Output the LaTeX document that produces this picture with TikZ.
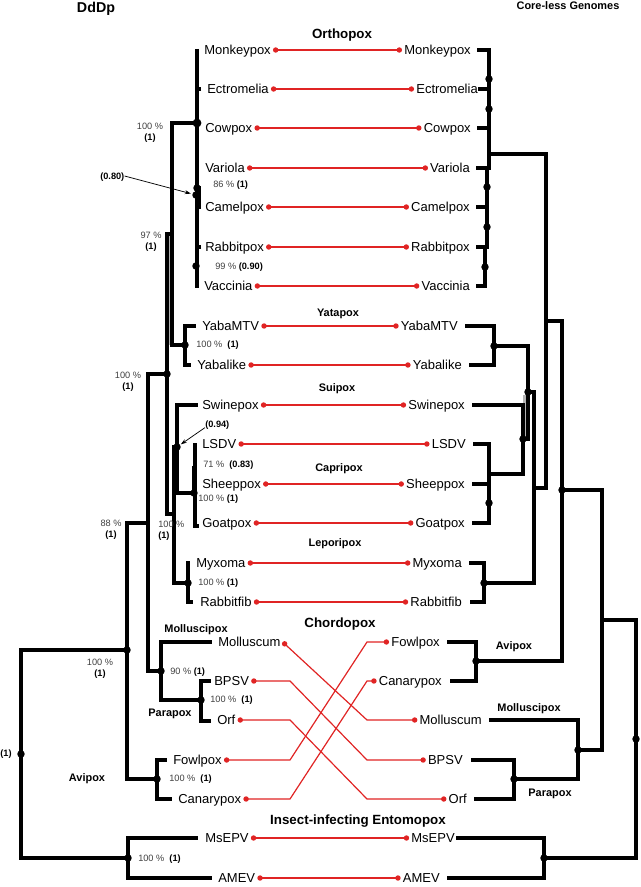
\documentclass[tikz,border=0pt]{standalone}
\usepackage{fontspec}
\setmainfont{Liberation Sans}
\usetikzlibrary{arrows.meta}

\definecolor{linkred}{RGB}{224,36,36}
\definecolor{suppgray}{RGB}{64,64,64}
\newcommand{\suppval}[1]{{\color{black}\bfseries #1}}

\begin{document}
\begin{tikzpicture}[x=0.75pt,y=-0.75pt,
    taxon/.style={font=\fontsize{9.75}{11}\selectfont, inner xsep=1.5pt, inner ysep=0pt, text height=7pt, text depth=0pt},
    clade/.style={font=\fontsize{8.2}{10}\selectfont\bfseries, inner sep=0pt, text height=5.9pt, text depth=0pt},
    bigclade/.style={font=\fontsize{10}{12}\selectfont\bfseries, inner sep=0pt, text height=7.2pt, text depth=0pt},
    supp/.style={font=\fontsize{6.9}{8.25}\selectfont, text=suppgray, inner sep=0pt, text height=5pt, text depth=0pt},
    suppstack/.style={font=\fontsize{6.9}{8.25}\selectfont, text=suppgray, inner sep=0pt, align=center},
    knot/.style={circle, fill=black, inner sep=0pt, minimum size=5.6pt},
    link/.style={draw=linkred, line width=0.9pt, {Circle[length=4pt]}-{Circle[length=4pt]}},
    tag/.style={-{Stealth[length=4.5pt,width=3pt]}, line width=0.55pt}]
    \useasboundingbox (0,0) rectangle (640,887);

    %% Titles and clade names
    \node[font=\fontsize{10.7}{12}\selectfont\bfseries] (ddp) at (96,9) {DdDp};
    \node[clade] (core) at (568,6) {Core-less Genomes};
    \node[bigclade] (cOrtho) at (342,34) {Orthopox};
    \node[clade] (cYata) at (338,313) {Yatapox};
    \node[clade] (cSui) at (337,388) {Suipox};
    \node[clade] (cCapri) at (339,468) {Capripox};
    \node[clade] (cLepori) at (335,543) {Leporipox};
    \node[bigclade] (cChordo) at (340,623) {Chordopox};
    \node[bigclade] (cEnto) at (358,820) {Insect-infecting Entomopox};
    \node[clade] (cMollL) at (196,629) {Molluscipox};
    \node[clade] (cParaL) at (170,713) {Parapox};
    \node[clade] (cAviL) at (87,778) {Avipox};
    \node[clade] (cAviR) at (514,646) {Avipox};
    \node[clade] (cMollR) at (529,708) {Molluscipox};
    \node[clade] (cParaR) at (550,793) {Parapox};

    %% Left taxa (DdDp)
    \node[taxon,anchor=west] (lMonkey) at (202,50) {Monkeypox};
    \node[taxon,anchor=west] (lEctro) at (205,89) {Ectromelia};
    \node[taxon,anchor=west] (lCow) at (203,128) {Cowpox};
    \node[taxon,anchor=west] (lVar) at (203,168) {Variola};
    \node[taxon,anchor=west] (lCamel) at (203,207) {Camelpox};
    \node[taxon,anchor=west] (lRabbit) at (203,247) {Rabbitpox};
    \node[taxon,anchor=west] (lVacc) at (202,286) {Vaccinia};
    \node[taxon,anchor=west] (lYaba) at (200,326) {YabaMTV};
    \node[taxon,anchor=west] (lYalik) at (195,365) {Yabalike};
    \node[taxon,anchor=west] (lSwine) at (200,405) {Swinepox};
    \node[taxon,anchor=west] (lLSDV) at (200,444) {LSDV};
    \node[taxon,anchor=west] (lSheep) at (200,484) {Sheeppox};
    \node[taxon,anchor=west] (lGoat) at (200,523) {Goatpox};
    \node[taxon,anchor=west] (lMyxo) at (194,563) {Myxoma};
    \node[taxon,anchor=west] (lRfib) at (198,602) {Rabbitfib};
    \node[taxon,anchor=west] (lMollus) at (216,642) {Molluscum};
    \node[taxon,anchor=west] (lBPSV) at (212,681) {BPSV};
    \node[taxon,anchor=west] (lOrf) at (215,720) {Orf};
    \node[taxon,anchor=west] (lFowl) at (171,760) {Fowlpox};
    \node[taxon,anchor=west] (lCanary) at (176,799) {Canarypox};
    \node[taxon,anchor=west] (lMsEPV) at (203,838) {MsEPV};
    \node[taxon,anchor=west] (lAMEV) at (216,878) {AMEV};

    %% Right taxa (core-less genomes)
    \node[taxon,anchor=east] (rMonkey) at (473,50) {Monkeypox};
    \node[taxon,anchor=east] (rEctro) at (480,89) {Ectromelia};
    \node[taxon,anchor=east] (rCow) at (473,128) {Cowpox};
    \node[taxon,anchor=east] (rVar) at (472,168) {Variola};
    \node[taxon,anchor=east] (rCamel) at (472,207) {Camelpox};
    \node[taxon,anchor=east] (rRabbit) at (472,247) {Rabbitpox};
    \node[taxon,anchor=east] (rVacc) at (472,286) {Vaccinia};
    \node[taxon,anchor=east] (rYaba) at (460,326) {YabaMTV};
    \node[taxon,anchor=east] (rYalik) at (464,365) {Yabalike};
    \node[taxon,anchor=east] (rSwine) at (467,405) {Swinepox};
    \node[taxon,anchor=east] (rLSDV) at (468,444) {LSDV};
    \node[taxon,anchor=east] (rSheep) at (467,484) {Sheeppox};
    \node[taxon,anchor=east] (rGoat) at (467,523) {Goatpox};
    \node[taxon,anchor=east] (rMyxo) at (464,563) {Myxoma};
    \node[taxon,anchor=east] (rRfib) at (464,602) {Rabbitfib};
    \node[taxon,anchor=east] (rFowl) at (442,642) {Fowlpox};
    \node[taxon,anchor=east] (rCanary) at (444,681) {Canarypox};
    \node[taxon,anchor=east] (rMollus) at (484,720) {Molluscum};
    \node[taxon,anchor=east] (rBPSV) at (465,760) {BPSV};
    \node[taxon,anchor=east] (rOrf) at (469,799) {Orf};
    \node[taxon,anchor=east] (rMsEPV) at (457,838) {MsEPV};
    \node[taxon,anchor=east] (rAMEV) at (442,878) {AMEV};

    %% Tree nodes, left
    \coordinate (lRoot) at (21,754);
    \coordinate (l100c) at (127,650);
    \coordinate (l88) at (148,523);
    \coordinate (l100a) at (167,374);
    \coordinate (l97) at (172,234);
    \coordinate (lOrtho) at (197,123);
    \coordinate (lVar86) at (197,188);
    \coordinate (l080) at (196,195);
    \coordinate (l099) at (196,266);
    \coordinate (lYata) at (185,345);
    \coordinate (l100b) at (174,514);
    \coordinate (l094) at (177,447);
    \coordinate (lCapri) at (194,493);
    \coordinate (c71) at (194,466);
    \coordinate (lLepori) at (188,583);
    \coordinate (lMP) at (161,671);
    \coordinate (lPara) at (201,700);
    \coordinate (lAvi) at (157,779);
    \coordinate (lEnto) at (128,858);
    \coordinate (oTop) at (200,186);
    \coordinate (oBot) at (200,209);
    %% tips, left
    \coordinate (tMonkey) at (197,49);
    \coordinate (tEctro) at (201,89);
    \coordinate (tRabbit) at (201,247);
    \coordinate (tVacc) at (197,288);
    \coordinate (tYaba) at (196,326);
    \coordinate (tYalik) at (191,365);
    \coordinate (tSwine) at (198,405);
    \coordinate (tLSDV) at (195,443);
    \coordinate (tGoat) at (199,526);
    \coordinate (tMyxo) at (190,563);
    \coordinate (tRfib) at (193,602);
    \coordinate (tMollus) at (212,642);
    \coordinate (tBPSV) at (211,681);
    \coordinate (tOrf) at (211,721);
    \coordinate (tFowl) at (167,760);
    \coordinate (tCanary) at (172,799);
    \coordinate (tMsEPV) at (198,838);
    \coordinate (tAMEV) at (212,878);

    %% Tree nodes, right
    \coordinate (rRoot) at (636,739);
    \coordinate (r620) at (602,620);
    \coordinate (r490) at (562,490);
    \coordinate (r321) at (546,321);
    \coordinate (rOrtho) at (489,154);
    \coordinate (r79) at (489,79);
    \coordinate (r109) at (489,109);
    \coordinate (r86) at (487,187);
    \coordinate (r80) at (487,227);
    \coordinate (r99) at (485,267);
    \coordinate (r488) at (534,488);
    \coordinate (r392) at (528,392);
    \coordinate (rYata) at (494,346);
    \coordinate (rSC) at (523,439);
    \coordinate (rCapri) at (489,474);
    \coordinate (r503) at (489,503);
    \coordinate (rLepori) at (484,583);
    \coordinate (rAvi) at (476,661);
    \coordinate (rMP) at (578,750);
    \coordinate (rPara) at (514,779);
    \coordinate (rEnto) at (544,858);
    %% tips, right
    \coordinate (uMonkey) at (477,50);
    \coordinate (uEctro) at (478,89);
    \coordinate (uCow) at (477,128);
    \coordinate (uVar) at (476,168);
    \coordinate (uCamel) at (476,207);
    \coordinate (uRabbit) at (476,247);
    \coordinate (uVacc) at (476,286);
    \coordinate (uYaba) at (465,326);
    \coordinate (uYalik) at (469,365);
    \coordinate (uSwine) at (472,405);
    \coordinate (uLSDV) at (473,444);
    \coordinate (uSheep) at (472,484);
    \coordinate (uGoat) at (472,523);
    \coordinate (uMyxo) at (469,563);
    \coordinate (uRfib) at (470,602);
    \coordinate (uFowl) at (447,642);
    \coordinate (uCanary) at (450,681);
    \coordinate (uMollus) at (489,720);
    \coordinate (uBPSV) at (471,760);
    \coordinate (uOrf) at (474,799);
    \coordinate (uMsEPV) at (456,838);
    \coordinate (uAMEV) at (447,878);

    %% Overlapping branches
    \fill[gray!60] (167,234) rectangle (172,345);
    \fill[gray!60] (523,395) rectangle (528,439);

    %% Draw the branches
    \begin{scope}[every path/.style={line width=2.3pt}]
      \draw (lRoot) |- (l100c);
      \draw (lRoot) |- (lEnto);
      \draw (l100c) |- (l88);
      \draw (l100c) |- (lAvi);
      \draw (l88) |- (l100a);
      \draw (l88) |- (lMP);
      \draw (l100a) |- (l97);
      \draw (l100a) |- (l100b);
      \draw (l97) |- (lOrtho);
      \draw (l97) |- (lYata);
      \draw (tMonkey) -- (tVacc);
      \draw (tEctro) -- (tEctro -| tMonkey);
      \draw (tRabbit) -- (tRabbit -| tMonkey);
      \draw[line width=1.5pt] (oTop) -- (oBot);
      \draw (lYata) |- (tYaba);
      \draw (lYata) |- (tYalik);
      \draw (l100b) |- (l094);
      \draw (l100b) |- (lLepori);
      \draw (l094) |- (tSwine);
      \draw (l094) |- (lCapri);
      \draw (c71) -- (lCapri);
      \draw (tLSDV) |- (tGoat);
      \draw (lLepori) |- (tMyxo);
      \draw (lLepori) |- (tRfib);
      \draw (lMP) |- (tMollus);
      \draw (lMP) |- (lPara);
      \draw (lPara) |- (tBPSV);
      \draw (lPara) |- (tOrf);
      \draw (lAvi) |- (tFowl);
      \draw (lAvi) |- (tCanary);
      \draw (lEnto) |- (tMsEPV);
      \draw (lEnto) |- (tAMEV);

      \draw (rRoot) |- (r620);
      \draw (rRoot) |- (rEnto);
      \draw (r620) |- (r490);
      \draw (r620) |- (rMP);
      \draw (r490) |- (r321);
      \draw (r490) |- (rAvi);
      \draw (r321) |- (rOrtho);
      \draw (r321) |- (r488);
      \draw (rOrtho) |- (uMonkey);
      \draw (rOrtho) |- (uEctro);
      \draw (rOrtho) |- (uCow);
      \draw (rOrtho) |- (uVar);
      \draw (r86) |- (uVar);
      \draw (r86) |- (uCamel);
      \draw (r80) |- (uCamel);
      \draw (r80) |- (uRabbit);
      \draw (r99) |- (uRabbit);
      \draw (r99) |- (uVacc);
      \draw (r488) |- (r392);
      \draw (r488) |- (rLepori);
      \draw (r392) |- (rYata);
      \draw (r392) |- (rSC);
      \draw (rYata) |- (uYaba);
      \draw (rYata) |- (uYalik);
      \draw (rSC) |- (uSwine);
      \draw (rSC) |- (rCapri);
      \draw (rCapri) |- (uLSDV);
      \draw (rCapri) -- (r503);
      \draw (r503) |- (uSheep);
      \draw (r503) |- (uGoat);
      \draw (rLepori) |- (uMyxo);
      \draw (rLepori) |- (uRfib);
      \draw (rAvi) |- (uFowl);
      \draw (rAvi) |- (uCanary);
      \draw (rMP) |- (uMollus);
      \draw (rMP) |- (rPara);
      \draw (rPara) |- (uBPSV);
      \draw (rPara) |- (uOrf);
      \draw (rEnto) |- (uMsEPV);
      \draw (rEnto) |- (uAMEV);
    \end{scope}

    %% Node dots
    \node[knot,minimum size=6.6pt] (dlOrtho) at (lOrtho) {};
    \foreach \k in {lVar86,l080,l099,lYata,l100a,l094,lCapri,lLepori,l100c,lMP,lPara,lAvi,lEnto,lRoot,
                    r79,r109,r86,r80,r99,rYata,r392,rSC,r503,rLepori,r490,rAvi,rMP,rPara,rEnto,rRoot}
      \node[knot] (d\k) at (\k) {};

    %% Draw the links
    \coordinate (kL) at (290,0);
    \coordinate (kR) at (367,0);
    \foreach \t in {Monkey,Ectro,Cow,Var,Camel,Rabbit,Vacc,Yaba,Yalik,Swine,LSDV,Sheep,Goat,Myxo,Rfib,MsEPV,AMEV}
      \draw[link] (l\t.east) -- (r\t.west);
    \draw[link] (lMollus.east) -- (rMollus.west -| kR) -- (rMollus.west);
    \foreach \t in {BPSV,Orf,Fowl,Canary}
      \draw[link] (l\t.east) -- (l\t.east -| kL) -- (r\t.west -| kR) -- (r\t.west);

    %% Support values
    \node[suppstack,anchor=north] (s100o) at (150,122.5) {100 \%\\\suppval{(1)}};
    \node[suppstack,anchor=north] (s97) at (151,231.5) {97 \%\\\suppval{(1)}};
    \node[suppstack,anchor=north] (s100y) at (128,371.5) {100 \%\\\suppval{(1)}};
    \node[suppstack,anchor=north] (s88) at (111,519.5) {88 \%\\\suppval{(1)}};
    \node[suppstack,anchor=north west,align=left] (s100s) at (158,520.5) {100 \%\\\suppval{(1)}};
    \node[suppstack,anchor=north] (s100r) at (100,658.5) {100 \%\\\suppval{(1)}};
    \node[supp] (sRoot) at (6,753) {\suppval{(1)}};
    \node[supp,anchor=west] (s86) at (213,184) {86 \% \suppval{(1)}};
    \node[supp,anchor=west] (s99) at (215,266) {99 \% \suppval{(0.90)}};
    \node[supp,anchor=west] (s100ya) at (196,344) {100 \% \ \suppval{(1)}};
    \node[supp,anchor=west] (s71) at (203,464) {71 \% \ \suppval{(0.83)}};
    \node[supp,anchor=west] (s100ca) at (198,498) {100 \% \suppval{(1)}};
    \node[supp,anchor=west] (s100le) at (198,582) {100 \% \suppval{(1)}};
    \node[supp,anchor=west] (s90) at (170,671) {90 \% \suppval{(1)}};
    \node[supp,anchor=west] (s100pa) at (210,699) {100 \% \ \suppval{(1)}};
    \node[supp,anchor=west] (s100av) at (169,778) {100 \% \ \suppval{(1)}};
    \node[supp,anchor=west] (s100en) at (138,858) {100 \% \ \suppval{(1)}};
    \node[supp,anchor=west] (s080) at (100,176) {\suppval{(0.80)}};
    \node[supp,anchor=west] (s094) at (205,424) {\suppval{(0.94)}};

    %% Pointers
    \draw[tag,shorten >=4pt] (s080.east) -- (dl080.center);
    \draw[tag,shorten >=3.5pt] (s094.south west) -- (dl094.center);
\end{tikzpicture}
\end{document}
